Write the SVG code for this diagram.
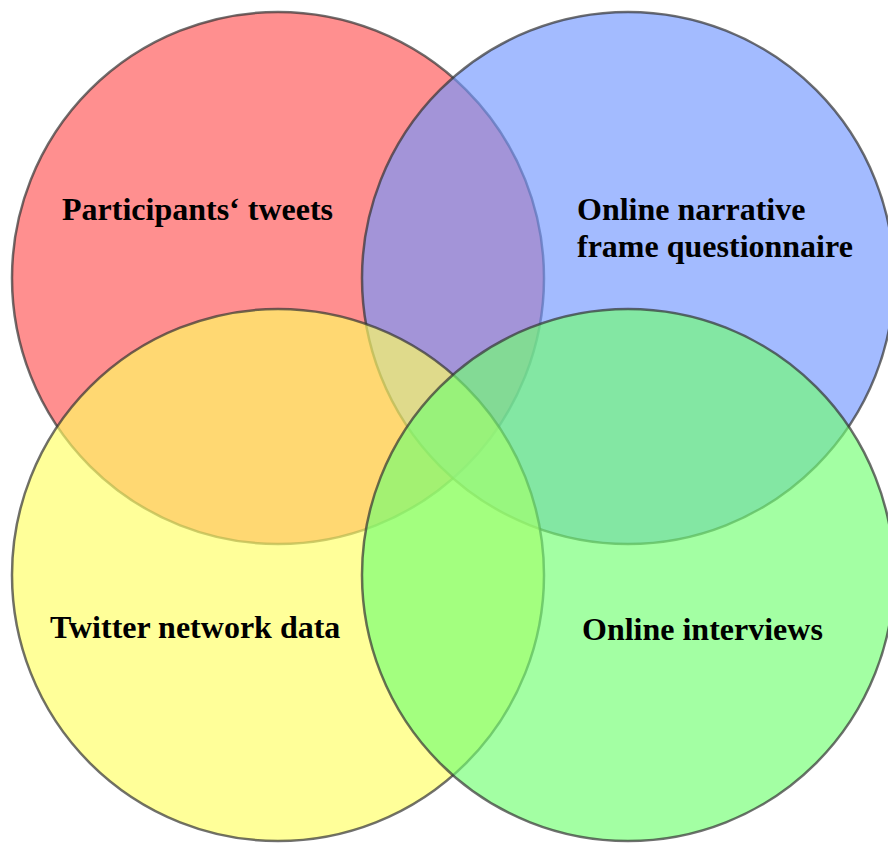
<svg xmlns="http://www.w3.org/2000/svg" width="888" height="844" viewBox="0 0 888 844">
<style>
.c{stroke:#333;stroke-opacity:0.7;stroke-width:2.5;fill-opacity:0.65}
.t{font-family:"Liberation Serif","Times New Roman",serif;font-weight:bold;font-size:32px;fill:#000}
</style>
<rect width="888" height="844" fill="#fff"/>
<g id="red"><circle class="c" cx="278" cy="278" r="266" fill="#ff5353"/></g>
<g id="blue"><circle class="c" cx="628" cy="278" r="266" fill="#7297ff"/></g>
<g id="yellow"><circle class="c" cx="278" cy="575" r="266" fill="#ffff62"/></g>
<g id="green"><circle class="c" cx="628" cy="575" r="266" fill="#72ff72"/></g>
<g id="labels">
<text class="t" x="62" y="220">Participants‘ tweets</text>
<text class="t" x="577" y="220">Online narrative</text>
<text class="t" x="577" y="257">frame questionnaire</text>
<text class="t" x="50" y="638">Twitter network data</text>
<text class="t" x="582" y="640">Online interviews</text>
</g>
<g id="connectors"/>
</svg>
